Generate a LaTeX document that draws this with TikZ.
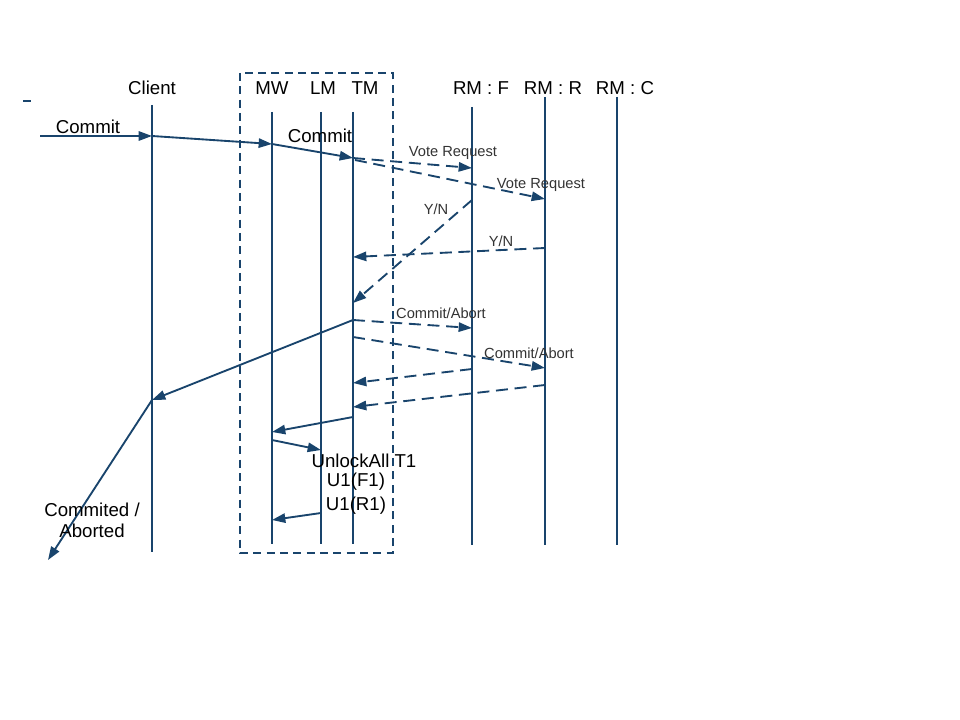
\documentclass[tikz,border=0pt]{standalone}
\usepackage{fontspec}
\setmainfont{Liberation Sans}
\usetikzlibrary{arrows.meta}
\definecolor{seqblue}{RGB}{25,68,108}
\begin{document}
\begin{tikzpicture}[x=0.75pt,y=-0.75pt,
  lifeline/.style={draw=seqblue,line width=1.4pt},
  msg/.style={draw=seqblue,line width=1.4pt,-{Triangle[length=10pt,width=7pt]}},
  dmsg/.style={msg,dash pattern=on 9pt off 5pt},
  head/.style={font=\fontsize{14}{16}\selectfont,inner sep=0pt},
  big/.style={font=\fontsize{14}{15.8}\selectfont,inner sep=0pt,align=center},
  small/.style={font=\fontsize{11}{12}\selectfont,inner sep=0pt,text=black!80}]
\useasboundingbox (0,0) rectangle (960,720);
% dashed group box
\draw[seqblue,line width=1.3pt,dash pattern=on 6pt off 4pt] (240,73) rectangle (393,553);
% headers
\node[head] (hc) at (152,88) {Client};
\node[head] (hmw) at (272,88) {MW};
\node[head] (hlm) at (323,88) {LM};
\node[head] (htm) at (365,88) {TM};
\node[head] (hf) at (481,88) {RM : F};
\node[head] (hr) at (553,88) {RM : R};
\node[head] (hcc) at (625,88) {RM : C};
% lifeline endpoints
\coordinate (c0) at (152,105); \coordinate (c1) at (152,552);
\coordinate (m0) at (272,112); \coordinate (m1) at (272,544);
\coordinate (l0) at (321,112); \coordinate (l1) at (321,544);
\coordinate (t0) at (353,112); \coordinate (t1) at (353,544);
\coordinate (f0) at (472,107); \coordinate (f1) at (472,545);
\coordinate (r0) at (545,97); \coordinate (r1) at (545,545);
\coordinate (k0) at (617,97); \coordinate (k1) at (617,545);
\foreach \a/\b in {c0/c1,m0/m1,l0/l1,t0/t1,f0/f1,r0/r1,k0/k1}
  \draw[lifeline] (\a) -- (\b);
% stray fragment
\coordinate (s0) at (23,101); \coordinate (s1) at (31,101);
\draw[seqblue,line width=1.4pt] (s0) -- (s1);
% message points
\coordinate (in) at (40,136);
\coordinate (cA) at (152,136);
\coordinate (mA) at (272,144);
\coordinate (tA) at (353,158);
\coordinate (tA2) at (355,160);
\coordinate (fA) at (472,168);
\coordinate (rA) at (545,199);
\coordinate (fB) at (472,200);
\coordinate (tB) at (353,303);
\coordinate (rB) at (545,248);
\coordinate (tB2) at (353,257);
\coordinate (tC) at (353,320);
\coordinate (fC) at (472,328);
\coordinate (tD) at (353,337);
\coordinate (rD) at (545,368);
\coordinate (fE) at (472,369);
\coordinate (tE) at (353,383);
\coordinate (rF) at (545,385);
\coordinate (tF) at (353,407);
\coordinate (cG) at (152,400);
\coordinate (tH) at (353,417);
\coordinate (mH) at (272,432);
\coordinate (mI) at (272,440);
\coordinate (lI) at (321,450);
\coordinate (lJ) at (321,513);
\coordinate (mJ) at (272,520);
\coordinate (out) at (48,560);
% messages
\draw[msg] (in) -- (cA);
\draw[msg] (cA) -- (mA);
\draw[msg] (mA) -- (tA);
\draw[dmsg] (tA) -- (fA);
\draw[dmsg] (tA2) -- (rA);
\draw[dmsg] (fB) -- (tB);
\draw[dmsg] (rB) -- (tB2);
\draw[dmsg] (tC) -- (fC);
\draw[dmsg] (tD) -- (rD);
\draw[dmsg] (fE) -- (tE);
\draw[dmsg] (rF) -- (tF);
\draw[msg] (tC) -- (cG);
\draw[msg] (tH) -- (mH);
\draw[msg] (mI) -- (lI);
\draw[msg] (lJ) -- (mJ);
\draw[msg] (cG) -- (out);
% labels
\node[head] (lc1) at (88,127) {Commit};
\node[head] (lc2) at (320,136) {Commit};
\node[small] (lv1) at (453,153) {Vote Request};
\node[small] (lv2) at (541,185) {Vote Request};
\node[small] (ly1) at (436,209) {Y/N};
\node[small] (ly2) at (501,241) {Y/N};
\node[small] (la1) at (441,313) {Commit/Abort};
\node[small] (la2) at (529,353) {Commit/Abort};
\node[big] (lu) at (364,461) {UnlockAll T1};
\node[big] (lu1) at (356,482) {U1(F1)};
\node[big] (lu2) at (356,506) {U1(R1)};
\node[big] (lca) at (92,520) {Commited /\\Aborted};
\end{tikzpicture}
\end{document}
